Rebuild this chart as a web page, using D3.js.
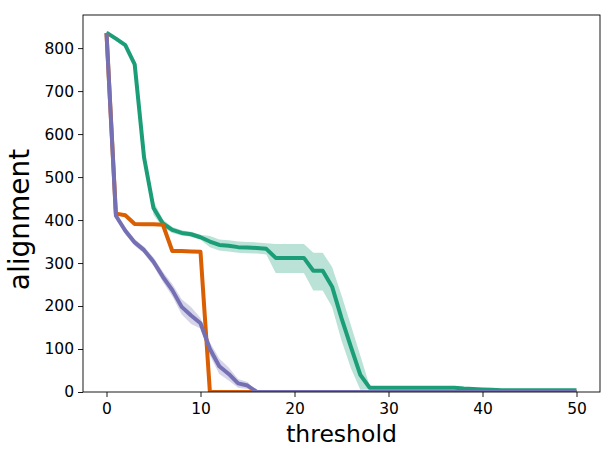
<!DOCTYPE html>
<html>
<head>
<meta charset="utf-8">
<script src="https://cdn.jsdelivr.net/npm/d3@7"></script>
<style>
  body { margin: 0; background: #fff; }
  svg { font-family: "DejaVu Sans", sans-serif; }
</style>
</head>
<body>
<div id="chart"></div>
<script>
// thresholds 0..50
const thresholds = d3.range(0, 51);

// green series (mean, lower, upper)
const greenMean = [836, 822, 807, 762, 545, 428, 392, 377, 370, 367, 360, 350, 342, 340, 337, 336, 335, 333,
  312, 312, 312, 312, 282, 282, 245, 172, 105, 40, 10, 10, 10, 10, 10, 10, 10, 10, 10, 10, 8, 7, 6, 5,
  4, 4, 4, 4, 4, 4, 4, 4, 4];
const greenLow = [833, 818, 803, 755, 530, 412, 383, 370, 364, 361, 354, 337, 329, 327, 324, 323, 322, 320,
  277, 277, 277, 277, 236, 236, 198, 120, 55, 5, 6, 6, 6, 6, 6, 6, 6, 6, 6, 6, 5, 4, 3, 3,
  2, 2, 2, 2, 2, 2, 2, 2, 2];
const greenHigh = [839, 826, 811, 769, 560, 444, 401, 384, 376, 373, 366, 363, 355, 353, 350, 349, 348, 346,
  344, 344, 344, 344, 324, 324, 291, 225, 155, 85, 14, 14, 14, 14, 14, 14, 14, 14, 14, 14, 11, 10, 9, 7,
  6, 6, 6, 6, 6, 6, 6, 6, 6];

// orange series
const orangeMean = [835, 415, 411, 391, 390, 390, 389, 328, 328, 327, 326, 0, 0, 0, 0, 0, 0, 0,
  0, 0, 0, 0, 0, 0, 0, 0, 0, 0, 0, 0, 0, 0, 0, 0, 0, 0, 0, 0, 0, 0, 0, 0,
  0, 0, 0, 0, 0, 0, 0, 0, 0];
const orangeBand = [3, 4, 4, 3, 3, 3, 3, 3, 3, 3, 3, 0, 0, 0, 0, 0, 0, 0,
  0, 0, 0, 0, 0, 0, 0, 0, 0, 0, 0, 0, 0, 0, 0, 0, 0, 0, 0, 0, 0, 0, 0, 0,
  0, 0, 0, 0, 0, 0, 0, 0, 0];

// purple series
const purpleMean = [835, 410, 375, 348, 330, 303, 268, 237, 198, 178, 160, 100, 60, 42, 20, 15, 0, 0,
  0, 0, 0, 0, 0, 0, 0, 0, 0, 0, 0, 0, 0, 0, 0, 0, 0, 0, 0, 0, 0, 0, 0, 0,
  0, 0, 0, 0, 0, 0, 0, 0, 0];
const purpleBand = [0, 5, 8, 8, 8, 10, 12, 14, 18, 20, 12, 15, 18, 15, 10, 8, 0, 0,
  0, 0, 0, 0, 0, 0, 0, 0, 0, 0, 0, 0, 0, 0, 0, 0, 0, 0, 0, 0, 0, 0, 0, 0,
  0, 0, 0, 0, 0, 0, 0, 0, 0];

const xTicks = [0, 10, 20, 30, 40, 50];
const yTicks = [0, 100, 200, 300, 400, 500, 600, 700, 800];

const width = 615, height = 461;
const margin = { top: 15, right: 15, bottom: 69, left: 83 };

const svg = d3.select("#chart").append("svg")
  .attr("width", width)
  .attr("height", height);

const x = d3.scaleLinear().domain([-2.5, 52.5]).range([margin.left, width - margin.right]);
const y = d3.scaleLinear().domain([0, 877]).range([height - margin.bottom, margin.top]);

svg.append("clipPath").attr("id", "plot-clip")
  .append("rect")
  .attr("x", margin.left).attr("y", margin.top)
  .attr("width", width - margin.left - margin.right)
  .attr("height", height - margin.top - margin.bottom);

const plot = svg.append("g").attr("clip-path", "url(#plot-clip)");

const series = [
  { mean: greenMean, low: greenLow, high: greenHigh, color: "#1b9e77" },
  { mean: orangeMean, low: orangeMean.map((v, i) => v - orangeBand[i]), high: orangeMean.map((v, i) => v + orangeBand[i]), color: "#d95f02" },
  { mean: purpleMean, low: purpleMean.map((v, i) => v - purpleBand[i]), high: purpleMean.map((v, i) => v + purpleBand[i]), color: "#7570b3" }
];

const area = d3.area()
  .x((d, i) => x(thresholds[i]))
  .y0(d => y(d[0]))
  .y1(d => y(d[1]));

const line = d3.line()
  .x((d, i) => x(thresholds[i]))
  .y(d => y(d));

series.forEach(s => {
  plot.append("path")
    .attr("d", area(s.low.map((v, i) => [v, s.high[i]])))
    .attr("fill", s.color)
    .attr("fill-opacity", 0.3)
    .attr("stroke", "none");
});

series.forEach(s => {
  plot.append("path")
    .attr("d", line(s.mean))
    .attr("fill", "none")
    .attr("stroke", s.color)
    .attr("stroke-width", 4)
    .attr("stroke-linejoin", "round");
});

// axes
const xAxis = svg.append("g")
  .attr("transform", `translate(0,${height - margin.bottom})`)
  .call(d3.axisBottom(x).tickValues(xTicks).tickSize(5).tickPadding(6));
const yAxis = svg.append("g")
  .attr("transform", `translate(${margin.left},0)`)
  .call(d3.axisLeft(y).tickValues(yTicks).tickSize(5).tickPadding(4));

[xAxis, yAxis].forEach(a => {
  a.select(".domain").remove();
  a.selectAll("text").style("font-size", "15.5px").style("font-family", "DejaVu Sans").attr("fill", "#000");
  a.selectAll("line").attr("stroke", "#000").attr("stroke-width", 0.9);
});

// frame
svg.append("rect")
  .attr("x", margin.left).attr("y", margin.top)
  .attr("width", width - margin.left - margin.right)
  .attr("height", height - margin.top - margin.bottom)
  .attr("fill", "none")
  .attr("stroke", "#000")
  .attr("stroke-width", 0.9);

svg.append("text")
  .attr("x", (margin.left + width - margin.right) / 2)
  .attr("y", 442)
  .attr("text-anchor", "middle")
  .style("font-size", "23.5px")
  .text("threshold");

svg.append("text")
  .attr("transform", `translate(29,${(margin.top + height - margin.bottom) / 2 + 16}) rotate(-90)`)
  .attr("text-anchor", "middle")
  .style("font-size", "28px")
  .text("alignment");
</script>
</body>
</html>
